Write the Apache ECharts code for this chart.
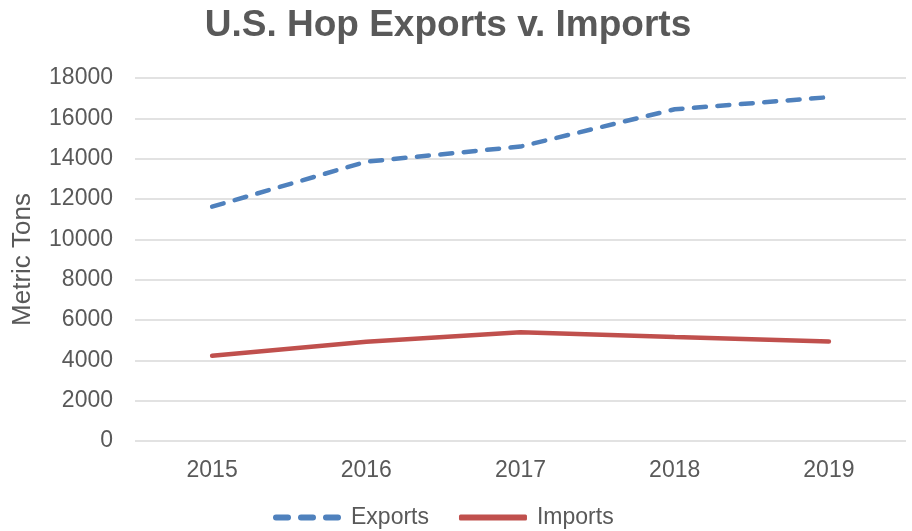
<!DOCTYPE html>
<html>
<head>
<meta charset="utf-8">
<script src="https://cdn.jsdelivr.net/npm/echarts@6/dist/echarts.min.js"></script>
<style>
  html, body { margin: 0; padding: 0; background: #fff; }
  #chart { width: 912px; height: 531px; }
</style>
</head>
<body>
<div id="chart"></div>
<script>
var years = ['2015', '2016', '2017', '2018', '2019'];
var exportsTons = [11620, 13850, 14600, 16450, 17050];
var importsTons = [4230, 4920, 5390, 5160, 4940];

var chart = echarts.init(document.getElementById('chart'));
var font = 'Liberation Sans, Arial, sans-serif';
var option = {
    animation: false,
    backgroundColor: '#fff',
    title: {
        text: 'U.S. Hop Exports v. Imports',
        left: 443,
        textAlign: 'center',
        top: 2,
        textStyle: { fontFamily: font, fontSize: 37, fontWeight: 'bold', color: '#595959' }
    },
    legend: {
        bottom: -3,
        left: 268,
        itemWidth: 68,
        itemHeight: 6,
        itemGap: 30,
        textStyle: { fontFamily: font, fontSize: 23, color: '#595959', padding: [0, 0, 0, 5] },
        data: [
            { name: 'Exports', icon: 'path://M3,0 H15 A3,3 0 0 1 15,6 H3 A3,3 0 0 1 3,0 Z M28,0 H40 A3,3 0 0 1 40,6 H28 A3,3 0 0 1 28,0 Z M53,0 H65 A3,3 0 0 1 65,6 H53 A3,3 0 0 1 53,0 Z' },
            { name: 'Imports', icon: 'roundRect' }
        ]
    },
    grid: { left: 135, right: 6, top: 78, bottom: 90 },
    xAxis: {
        type: 'category',
        data: years,
        boundaryGap: true,
        axisLine: { show: false },
        axisTick: { show: false },
        axisLabel: { margin: 18, fontFamily: font, fontSize: 23, color: '#595959' }
    },
    yAxis: {
        type: 'value',
        min: 0,
        max: 18000,
        interval: 2000,
        name: 'Metric Tons',
        nameLocation: 'middle',
        nameGap: 99,
        nameTextStyle: { fontFamily: font, fontSize: 26, color: '#595959' },
        axisLine: { show: false },
        axisTick: { show: false },
        axisLabel: {
            margin: 22, fontFamily: font, fontSize: 23, color: '#595959',
            formatter: function (v) { return String(v); }
        },
        splitLine: { lineStyle: { color: '#d9d9d9', width: 1.5 } }
    },
    series: [
        {
            name: 'Exports',
            type: 'line',
            data: exportsTons,
            symbol: 'none',
            color: '#4F81BD',
            lineStyle: { width: 4.5, type: [12, 11.5], cap: 'round', color: '#4F81BD' }
        },
        {
            name: 'Imports',
            type: 'line',
            data: importsTons,
            symbol: 'none',
            color: '#C0504D',
            lineStyle: { width: 4.5, cap: 'round', color: '#C0504D' }
        }
    ]
};
chart.setOption(option);
</script>
</body>
</html>
